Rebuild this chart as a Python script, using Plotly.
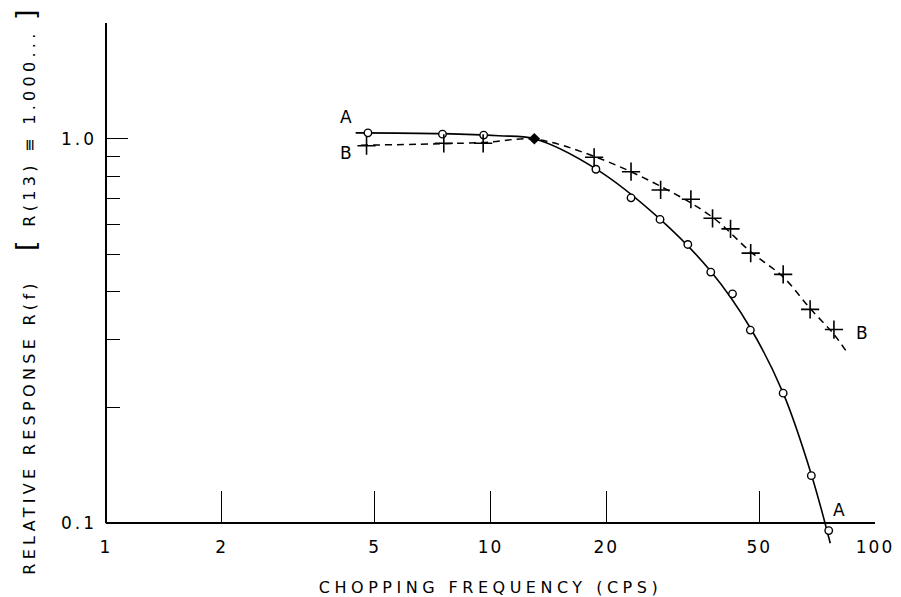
import math
import plotly.graph_objects as go

# ---- data (frequency in cps, relative response) ----
# Curve A: measured points (open circles)
a_freq = [4.8, 7.5, 9.6, 18.8, 23.2, 27.6, 32.6, 37.4, 42.6, 47.4, 57.7, 68.3, 75.8]
a_resp = [1.036, 1.028, 1.022, 0.833, 0.702, 0.617, 0.531, 0.450, 0.395, 0.318, 0.218, 0.133, 0.0957]
# Curve A: drawn smooth curve
a_line_freq = [4.46, 7.5, 10.5, 13.0, 18.8, 27.6, 37.4, 47.4, 57.7, 68.3, 76.5]
a_line_resp = [1.036, 1.031, 1.018, 1.0, 0.835, 0.618, 0.452, 0.322, 0.218, 0.134, 0.0887]

# Curve B: measured points (crosses)
b_freq = [4.76, 7.56, 9.57, 18.6, 23.2, 27.7, 33.2, 37.8, 42.1, 47.5, 57.7, 67.8, 78.2]
b_resp = [0.959, 0.973, 0.973, 0.895, 0.821, 0.736, 0.696, 0.621, 0.583, 0.504, 0.444, 0.360, 0.319]
# Curve B: drawn dashed curve
b_line_freq = [4.6, 9.57, 13.0, 18.6, 27.7, 37.8, 47.5, 57.7, 67.8, 78.2, 85.1]
b_line_resp = [0.962, 0.978, 0.997, 0.9, 0.752, 0.625, 0.508, 0.437, 0.362, 0.31, 0.2756]

# Normalisation point R(13) = 1.000
norm_freq = [13.0]
norm_resp = [1.0]

# Axis ticks
x_tickvals = [1, 2, 5, 10, 20, 50, 100]
x_ticktext = ["1", "2", "5", "10", "20", "50", "100"]
y_tickvals = [0.1, 1.0]
y_ticktext = ["0.1", "1.0"]
y_minor_vals = [0.2, 0.3, 0.4, 0.5, 0.6, 0.7, 0.8, 0.9, 2.0]

# Curve labels (text, freq, response)
curve_labels = [("A", 4.22, 1.14), ("B", 4.22, 0.92), ("B", 92.4, 0.312), ("A", 80.8, 0.1085)]

X_MIN, X_MAX = 1, 100
Y_MIN, Y_MAX = 0.0878, 2.0

FONT = "DejaVu Sans"
INK = "black"

fig = go.Figure()

fig.add_trace(go.Scatter(
    x=a_line_freq, y=a_line_resp, mode="lines",
    line=dict(color=INK, width=1.6, shape="spline", smoothing=1.0),
    hoverinfo="skip"))
fig.add_trace(go.Scatter(
    x=b_line_freq, y=b_line_resp, mode="lines",
    line=dict(color=INK, width=1.5, dash="7px,5px", shape="spline", smoothing=1.0),
    hoverinfo="skip"))
fig.add_trace(go.Scatter(
    x=a_freq, y=a_resp, mode="markers", name="A",
    marker=dict(symbol="circle", size=7.5, color="white", line=dict(color=INK, width=1.4)),
    cliponaxis=False))
fig.add_trace(go.Scatter(
    x=b_freq, y=b_resp, mode="markers", name="B",
    marker=dict(symbol="cross-thin-open", size=13, color=INK, line=dict(color=INK, width=1.6)),
    cliponaxis=False))
fig.add_trace(go.Scatter(
    x=norm_freq, y=norm_resp, mode="markers", name="R(13)",
    marker=dict(symbol="diamond", size=9, color=INK),
    cliponaxis=False))

# position (paper fraction) where R = 0.1 sits, so the x axis is drawn there
x_axis_pos = (math.log10(0.1) - math.log10(Y_MIN)) / (math.log10(Y_MAX) - math.log10(Y_MIN))

annotations = []
for txt, f, r in curve_labels:
    annotations.append(dict(
        text=txt, x=math.log10(f), y=math.log10(r), xref="x", yref="y",
        showarrow=False, font=dict(family=FONT, size=17, color=INK)))

y_title = ("<span style='letter-spacing:4.3px'>RELATIVE RESPONSE R(f)   "
           "<span style='font-size:27px'>[</span> R(13) ≡ 1.000... "
           "<span style='font-size:27px'>]</span></span>")
annotations.append(dict(
    text=y_title, textangle=-90, xref="paper", yref="paper",
    x=-0.104, y=0.489, xanchor="center", yanchor="middle",
    showarrow=False, font=dict(family=FONT, size=16, color=INK)))

fig.update_layout(
    width=901, height=597,
    margin=dict(l=106, r=26, t=23, b=52),
    paper_bgcolor="white", plot_bgcolor="white",
    showlegend=False,
    font=dict(family=FONT, color=INK),
    annotations=annotations,
    shapes=[dict(type="line", xref="paper", yref="paper",
                 x0=0, x1=0, y0=x_axis_pos, y1=1,
                 line=dict(color=INK, width=2))],
    xaxis=dict(
        type="log", range=[math.log10(X_MIN), math.log10(X_MAX)],
        anchor="free", position=x_axis_pos, automargin=False,
        showline=True, linecolor=INK, linewidth=2,
        showgrid=False, zeroline=False,
        tickmode="array", tickvals=x_tickvals,
        ticktext=[f"<span style='letter-spacing:2px'>{t}</span>" for t in x_ticktext],
        ticks="inside", ticklen=31, tickwidth=1.2, tickcolor=INK,
        ticklabelstandoff=8,
        tickfont=dict(family=FONT, size=17, color=INK),
        title=dict(text="<span style='letter-spacing:4.5px'>CHOPPING FREQUENCY (CPS)</span>",
                   font=dict(family=FONT, size=16, color=INK), standoff=27),
    ),
    yaxis=dict(
        type="log", range=[math.log10(Y_MIN), math.log10(Y_MAX)], automargin=False,
        showline=False, showgrid=False, zeroline=False,
        tickmode="array", tickvals=y_tickvals,
        ticktext=[f"<span style='letter-spacing:3px'>{t}</span>" for t in y_ticktext],
        ticks="inside", ticklen=22, tickwidth=1.2, tickcolor=INK,
        ticklabelstandoff=8,
        tickfont=dict(family=FONT, size=17, color=INK),
        minor=dict(tickmode="array", tickvals=y_minor_vals, ticks="inside",
                   ticklen=14, tickwidth=1.2, tickcolor=INK, showgrid=False),
    ),
)

fig.write_html("out.html", config={"displayModeBar": False},
               post_script="document.body.style.margin='0px';")
